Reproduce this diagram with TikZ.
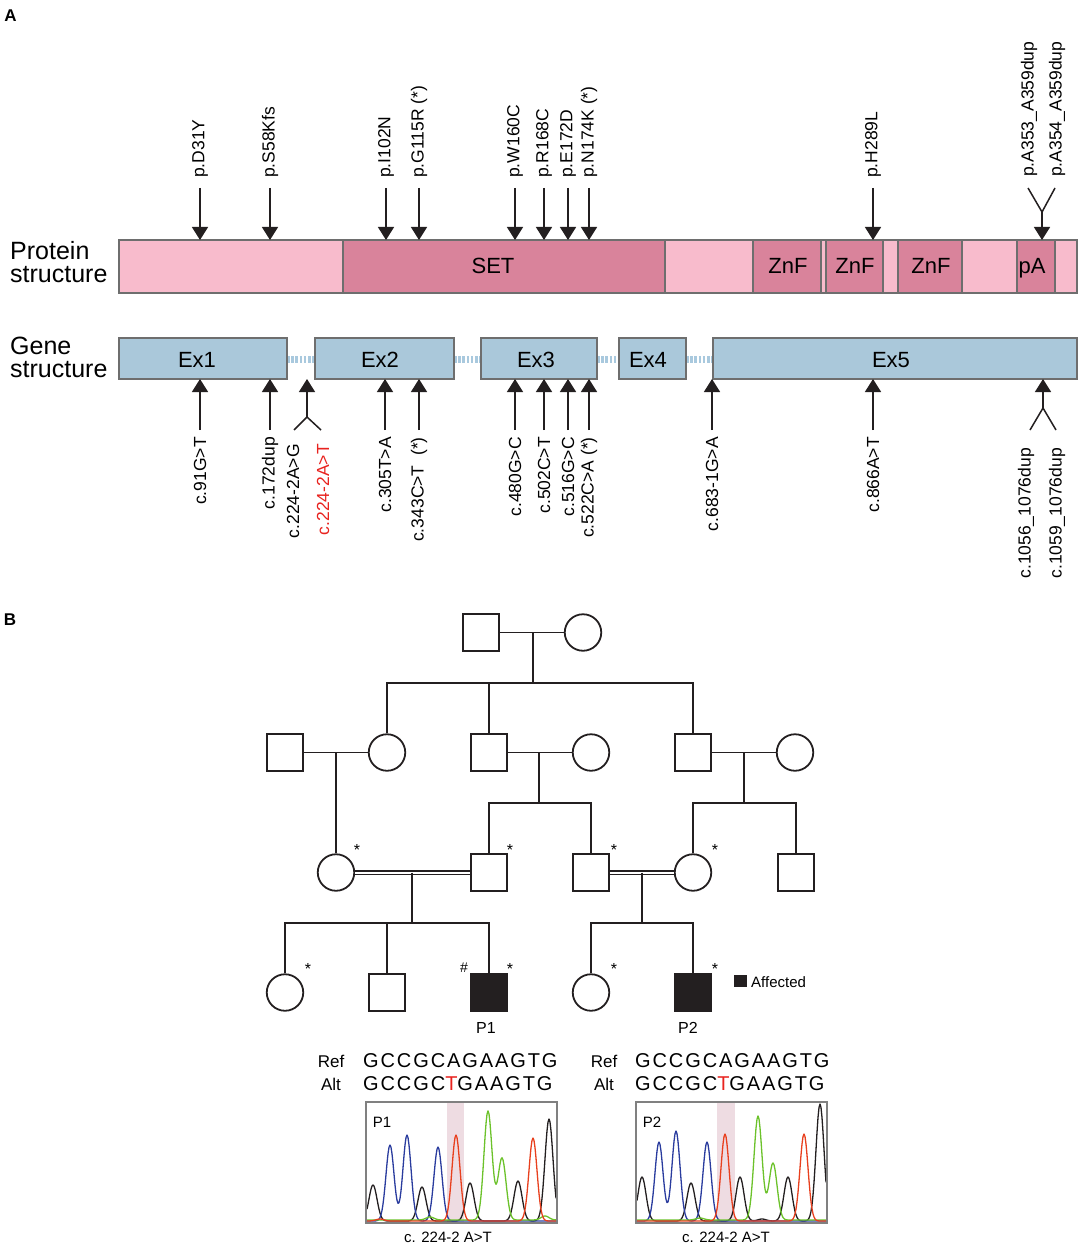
\documentclass[tikz,border=0pt]{standalone}
\usepackage{fontspec}
\setmainfont{Liberation Sans}
\newfontfamily\seqfont[LetterSpace=9.5]{Liberation Sans}
\usetikzlibrary{arrows.meta}
\definecolor{lpink}{HTML}{F8BBCC}
\definecolor{dpink}{HTML}{D9839B}
\definecolor{exblue}{HTML}{AAC8DA}
\definecolor{intron}{HTML}{A9C9DE}
\definecolor{bord}{HTML}{6E6E6E}
\definecolor{ink}{HTML}{231F20}
\definecolor{tblue}{HTML}{2A3C9E}
\definecolor{tred}{HTML}{E8401E}
\definecolor{tgreen}{HTML}{6CC22B}
\definecolor{hl}{HTML}{EEDCE2}
\definecolor{chbord}{HTML}{808080}
\definecolor{redlab}{HTML}{E8231F}
\begin{document}
\begin{tikzpicture}[x=1pt,y=-1pt,
  declare function={g(\t,\c,\h)=\h*exp(-min(((\t-\c)/5.7)*((\t-\c)/5.7),12));},
  seg/.style={draw=bord,line width=2.2pt},
  introndash/.style={draw=intron,line width=7pt,dash pattern=on 2.6pt off 1.6pt},
  mutarrow/.style={draw=ink,line width=1.5pt,-{Triangle[width=16pt,length=13pt]}},
  forkline/.style={draw=ink,line width=1.5pt},
  plab/.style={rotate=90,anchor=west,inner sep=0pt,font=\fontsize{17.5}{18}\selectfont},
  glab/.style={rotate=90,anchor=east,inner sep=0pt,font=\fontsize{17.5}{18}\selectfont},
  domtxt/.style={anchor=base,inner sep=0pt,font=\fontsize{22}{22}\selectfont},
  rowtxt/.style={anchor=north west,align=left,inner sep=0pt},
  paneltxt/.style={anchor=center,inner sep=0pt,font=\fontsize{17}{17}\selectfont\bfseries},
  male/.style={draw=ink,line width=1.8pt,rectangle,minimum width=36pt,minimum height=37pt,inner sep=0pt},
  female/.style={draw=ink,line width=1.8pt,circle,minimum size=36.5pt,inner sep=0pt},
  affected/.style={fill=ink},
  pedline/.style={draw=ink,line width=1.8pt},
  marline/.style={draw=ink,line width=1.3pt,double=white,double distance=2pt},
  star/.style={anchor=base,inner sep=0pt,font=\fontsize{16}{16}\selectfont},
  smalltxt/.style={inner sep=0pt,font=\fontsize{16}{16}\selectfont},
  reftxt/.style={anchor=base,inner sep=0pt,font=\fontsize{17}{17}\selectfont},
  seqtxt/.style={anchor=base west,inner sep=0pt,font=\fontsize{20}{20}\seqfont},
  trace/.style={line width=1.3pt,line join=round},
  chbox/.style={draw=chbord,line width=1.5pt}
]
\useasboundingbox (0,0) rectangle (1084,1246);

% ---------------- Panel A ----------------
\node[paneltxt] (lA) at (10.5,15.5) {A};
\node[rowtxt,font=\fontsize{25}{23}\selectfont] (prot) at (10,241) {Protein\\structure};
\node[rowtxt,font=\fontsize{25}{23}\selectfont] (gene) at (10,337) {Gene\\structure};

% protein bar
\foreach \a/\b/\c in {119/343/lpink,343/665/dpink,665/753/lpink,753/821/dpink,821/826/lpink,826/883/dpink,883/898/lpink,898/962/dpink,962/1017/lpink,1017/1055/dpink,1055/1077/lpink}
  \draw[seg,fill=\c] (\a,240) rectangle (\b,293);
\node[domtxt] (set) at (493,274) {SET};
\node[domtxt] (znf1) at (788,274) {ZnF};
\node[domtxt] (znf2) at (855,274) {ZnF};
\node[domtxt] (znf3) at (931,274) {ZnF};
\node[domtxt] (pa) at (1032,274) {pA};

% gene bar
\foreach \a/\b in {287/315,454/481,597/619,686/713}
  \draw[introndash] (\a,359) -- (\b,359);
\foreach \a/\b in {119/287,315/454,481/597,619/686,713/1077}
  \draw[seg,fill=exblue] (\a,338) rectangle (\b,379);
\node[domtxt] (ex1) at (197,367) {Ex1};
\node[domtxt] (ex2) at (380,367) {Ex2};
\node[domtxt] (ex3) at (536,367) {Ex3};
\node[domtxt] (ex4) at (648,367) {Ex4};
\node[domtxt] (ex5) at (891,367) {Ex5};

% protein mutations
\foreach \xx/\txt [count=\i] in {200/p.D31Y,270/p.S58Kfs,386/p.I102N,419/{p.G115R (*)},515/p.W160C,544/p.R168C,568/p.E172D,589/{p.N174K (*)},873/p.H289L}{
  \coordinate (pa\i) at (\xx,188);
  \coordinate (pb\i) at (\xx,240);
  \draw[mutarrow] (pa\i) -- (pb\i);
  \node[plab] (pl\i) at (\xx,178) {\txt};
}
\coordinate (pfj) at (1042,212);
\coordinate (pft) at (1042,240);
\coordinate (pfl) at (1028,188);
\coordinate (pfr) at (1055,188);
\draw[mutarrow] (pfj) -- (pft);
\draw[forkline] (pfl) -- (pfj) -- (pfr);
\node[plab] (plf1) at (1029,177) {p.A353\_A359dup};
\node[plab] (plf2) at (1057,177) {p.A354\_A359dup};

% gene mutations
\foreach \xx/\txt [count=\i] in {200/c.91G>T,270/c.172dup,385/c.305T>A,419/{c.343C>T\ \ (*)},515/c.480G>C,544/c.502C>T,568/c.516G>C,589/{c.522C>A (*)},712/c.683-1G>A,873/c.866A>T}{
  \coordinate (ga\i) at (\xx,430);
  \coordinate (gb\i) at (\xx,379);
  \draw[mutarrow] (ga\i) -- (gb\i);
  \node[glab] (gl\i) at (\xx,437) {\txt};
}
\coordinate (gfj1) at (307,417);
\coordinate (gft1) at (307,379);
\coordinate (gfl1) at (294,430);
\coordinate (gfr1) at (321,430);
\draw[mutarrow] (gfj1) -- (gft1);
\draw[forkline] (gfl1) -- (gfj1) -- (gfr1);
\node[glab] (glf1) at (293,444) {c.224-2A>G};
\node[glab,text=redlab] (glf2) at (323,444) {c.224-2A>T};
\coordinate (gfj2) at (1043,408);
\coordinate (gft2) at (1043,379);
\coordinate (gfl2) at (1030,430);
\coordinate (gfr2) at (1056,430);
\draw[mutarrow] (gfj2) -- (gft2);
\draw[forkline] (gfl2) -- (gfj2) -- (gfr2);
\node[glab] (glf3) at (1026,448) {c.1056\_1076dup};
\node[glab] (glf4) at (1057,448) {c.1059\_1076dup};

% ---------------- Panel B ----------------
\node[paneltxt] (lB) at (10,620) {B};

% generation I
\node[male] (gf) at (481,632.5) {};
\node[female] (gm) at (583,632.5) {};
% generation II
\node[male] (h1) at (285,752.5) {};
\node[female] (d1) at (387,752.5) {};
\node[male] (s2) at (489,752.5) {};
\node[female] (w2) at (591,752.5) {};
\node[male] (s3) at (693,752.5) {};
\node[female] (w3) at (795,752.5) {};
% generation III
\node[female] (m1) at (336,872.5) {};
\node[male] (f1) at (489,872.5) {};
\node[male] (f2) at (591,872.5) {};
\node[female] (m2) at (693,872.5) {};
\node[male] (b3) at (796,872.5) {};
% generation IV
\node[female] (c1) at (285,992.5) {};
\node[male] (c2) at (387,992.5) {};
\node[male,affected] (p1) at (489,992.5) {};
\node[female] (c3) at (591,992.5) {};
\node[male,affected] (p2) at (693,992.5) {};

% junctions
\coordinate (j0) at (533,632.5);
\coordinate (k0) at (533,683);
\coordinate (j1) at (336,752.5);
\coordinate (j2) at (539,752.5);
\coordinate (k2) at (539,803);
\coordinate (j3) at (744,752.5);
\coordinate (k3) at (744,803);
\coordinate (j4) at (412,872.5);
\coordinate (k4) at (412,923);
\coordinate (j5) at (642,872.5);
\coordinate (k5) at (642,923);

\draw[pedline] (gf.east) -- (gm.west);
\draw[pedline] (j0) -- (k0);
\draw[pedline] (d1.north) -- (d1.north |- k0) -- (s3.north |- k0) -- (s3.north);
\draw[pedline] (s2.north) -- (s2.north |- k0);

\draw[pedline] (h1.east) -- (d1.west);
\draw[pedline] (j1) -- (m1.north);
\draw[pedline] (s2.east) -- (w2.west);
\draw[pedline] (j2) -- (k2);
\draw[pedline] (f1.north) -- (f1.north |- k2) -- (f2.north |- k2) -- (f2.north);
\draw[pedline] (s3.east) -- (w3.west);
\draw[pedline] (j3) -- (k3);
\draw[pedline] (m2.north) -- (m2.north |- k3) -- (b3.north |- k3) -- (b3.north);

\draw[marline] (m1.east) -- (f1.west);
\draw[pedline] (j4) -- (k4);
\draw[pedline] (c1.north) -- (c1.north |- k4) -- (p1.north |- k4) -- (p1.north);
\draw[pedline] (c2.north) -- (c2.north |- k4);
\draw[marline] (f2.east) -- (m2.west);
\draw[pedline] (j5) -- (k5);
\draw[pedline] (c3.north) -- (c3.north |- k5) -- (p2.north |- k5) -- (p2.north);

% stars and marks
\node[star] (st1) at (357,855) {*};
\node[star] (st2) at (510,855) {*};
\node[star] (st3) at (614,855) {*};
\node[star] (st4) at (715,855) {*};
\node[star] (st5) at (308,974) {*};
\node[star] (st6) at (510,974) {*};
\node[star] (st7) at (614,974) {*};
\node[star] (st8) at (715,974) {*};
\node[inner sep=0pt,font=\fontsize{14}{14}\selectfont] (hash) at (464,968) {\#};
\node[smalltxt] (lp1) at (486,1028) {P1};
\node[smalltxt] (lp2) at (688,1028) {P2};
\node[affected,inner sep=0pt,minimum width=13pt,minimum height=12pt] (leg) at (740.5,981) {};
\node[anchor=west,inner sep=0pt,font=\fontsize{15}{15}\selectfont] (legt) at (751,982) {Affected};

% sequences
\node[reftxt] (ref1) at (331,1067) {Ref};
\node[reftxt] (alt1) at (331,1090) {Alt};
\node[seqtxt] (rs1) at (363,1067) {GCCGCAGAAGTG};
\node[seqtxt] (as1) at (363,1090) {GCCGC\textcolor{redlab}{T}GAAGTG};
\node[reftxt] (ref2) at (604,1067) {Ref};
\node[reftxt] (alt2) at (604,1090) {Alt};
\node[seqtxt] (rs2) at (635,1067) {GCCGCAGAAGTG};
\node[seqtxt] (as2) at (635,1090) {GCCGC\textcolor{redlab}{T}GAAGTG};

% chromatogram P1
\fill[hl] (447,1102) rectangle (464,1222);
\draw[trace,ink] plot[domain=367:556,samples=190] (\x,{1221-g(\x,373,36)-g(\x,422,34)-g(\x,470,38)-g(\x,518,40)-g(\x,549,102)});
\draw[trace,tblue] plot[domain=367:556,samples=190] (\x,{1221-g(\x,390,76)-g(\x,407,86)-g(\x,438,74)});
\draw[trace,tgreen] plot[domain=367:556,samples=190] (\x,{1220-g(\x,488,109)-g(\x,502,62)-g(\x,430,3)-g(\x,545,4)});
\draw[trace,tred] plot[domain=367:556,samples=190] (\x,{1221-g(\x,456,86)-g(\x,533,83)-g(\x,380,2)});
\draw[chbox] (366,1102) rectangle (557,1223);
\node[inner sep=0pt,font=\fontsize{15}{15}\selectfont] (cp1) at (382,1122) {P1};
\node[inner sep=0pt,font=\fontsize{15}{15}\selectfont] (cap1) at (448,1237) {c. 224-2 A>T};

% chromatogram P2
\fill[hl] (717,1102) rectangle (735,1222);
\draw[trace,ink] plot[domain=637:826,samples=190] (\x,{1221-g(\x,642,44)-g(\x,691,38)-g(\x,740,44)-g(\x,788,44)-g(\x,820,117)-g(\x,762,2)});
\draw[trace,tblue] plot[domain=637:826,samples=190] (\x,{1221-g(\x,659,79)-g(\x,676,90)-g(\x,707,79)});
\draw[trace,tgreen] plot[domain=637:826,samples=190] (\x,{1220-g(\x,758,104)-g(\x,773,57)-g(\x,700,2)});
\draw[trace,tred] plot[domain=637:826,samples=190] (\x,{1221-g(\x,725,87)-g(\x,804,87)});
\draw[chbox] (636,1102) rectangle (827,1223);
\node[inner sep=0pt,font=\fontsize{15}{15}\selectfont] (cp2) at (652,1122) {P2};
\node[inner sep=0pt,font=\fontsize{15}{15}\selectfont] (cap2) at (726,1237) {c. 224-2 A>T};
\end{tikzpicture}
\end{document}
